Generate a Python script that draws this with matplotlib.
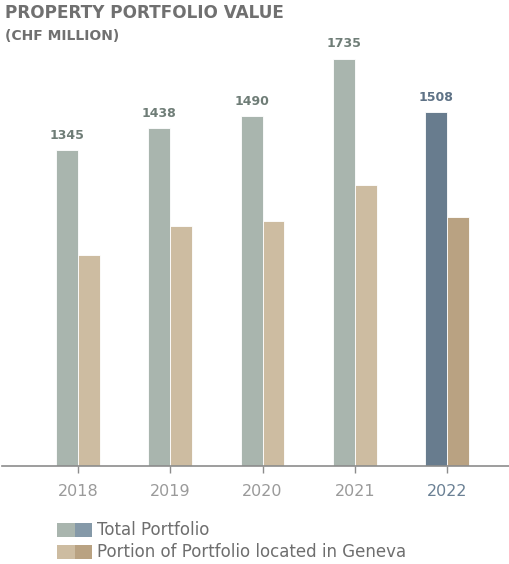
import matplotlib
matplotlib.use("Agg")
import matplotlib.pyplot as plt
from matplotlib.patches import Rectangle

years = ["2018", "2019", "2020", "2021", "2022"]
total = [1345, 1438, 1490, 1735, 1508]
geneva = [897, 1021, 1042, 1196, 1061]

c_total = "#a9b5ae"
c_geneva = "#cdbca1"
c_total_hl = "#687c8e"
c_geneva_hl = "#b9a282"

plt.rcParams["font.family"] = ["DejaVu Sans"]

fig = plt.figure(figsize=(5.1, 5.64), dpi=100)
ax = fig.add_axes([2 / 510, 98.5 / 564, 508 / 510, 425.5 / 564])

w = 0.238
xs = list(range(len(years)))
last = len(years) - 1
for i in xs:
    hl = i == last
    ax.bar(i - w / 2, total[i], w, color=c_total_hl if hl else c_total,
           edgecolor="white", linewidth=0.6)
    ax.bar(i + w / 2, geneva[i], w, color=c_geneva_hl if hl else c_geneva,
           edgecolor="white", linewidth=0.6)
    ax.text(i - w / 2, total[i] + 35, str(total[i]), ha="center", va="bottom",
            fontsize=9, fontweight="bold",
            color="#5e7286" if hl else "#6f7d77")

ax.set_xlim(-0.824, 4.683)
ax.set_ylim(0, 1814)
ax.set_xticks(xs)
ax.set_xticklabels(years, fontsize=11.5)
for i, lab in enumerate(ax.get_xticklabels()):
    lab.set_color("#6a8094" if i == last else "#9a9a9a")
ax.tick_params(axis="x", length=5, width=1, color="#8c8c8c", pad=8)
ax.set_yticks([])
for s in ["top", "right", "left"]:
    ax.spines[s].set_visible(False)
ax.spines["bottom"].set_color("#8c8c8c")
ax.spines["bottom"].set_linewidth(1.2)

fig.text(5 / 510, 1 - 13 / 564, "PROPERTY PORTFOLIO VALUE", fontsize=12.2,
         fontweight="bold", color="#707070", va="center", ha="left")
fig.text(5 / 510, 1 - 36 / 564, "(CHF MILLION)", fontsize=10,
         fontweight="bold", color="#707070", va="center", ha="left")

# legend swatches: light + dark version of each series
legend = [("Total Portfolio", c_total, "#8599a8", 530),
          ("Portion of Portfolio located in Geneva", c_geneva, c_geneva_hl, 552)]
for label, c1, c2, yc in legend:
    y0 = 1 - (yc + 7) / 564
    fig.add_artist(Rectangle((57 / 510, y0), 18 / 510, 14 / 564,
                             transform=fig.transFigure, color=c1, lw=0))
    fig.add_artist(Rectangle((75 / 510, y0), 17 / 510, 14 / 564,
                             transform=fig.transFigure, color=c2, lw=0))
    fig.text(97 / 510, 1 - yc / 564, label, fontsize=12, color="#6e6e6e",
             va="center", ha="left")

fig.savefig("out.png", dpi=100)
